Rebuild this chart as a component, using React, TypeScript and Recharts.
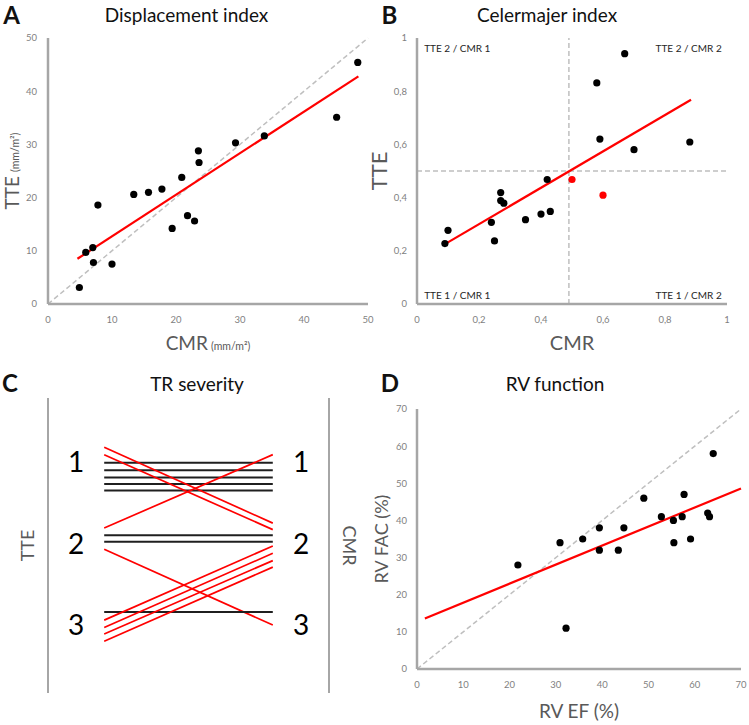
import React from 'react';
import {
    Line,
    LineChart,
    ReferenceDot,
    ReferenceLine,
    Scatter,
    ScatterChart,
    XAxis,
    YAxis,
} from 'recharts';

const FONT = 'Lato, "Open Sans", sans-serif';
const AXIS_GRAY = '#a6a6a6';
const TICK_GRAY = '#7f7f7f';
const LABEL_GRAY = '#595959';
const FIT_RED = '#ff0000';
const IDENTITY_GRAY = '#bfbfbf';

// A - displacement index (mm/m²)
const dispCmr = [4.9, 5.9, 7.0, 7.1, 7.8, 10.0, 13.4, 15.7, 17.8, 19.4, 20.9, 21.8, 22.9, 23.5, 23.6, 29.3, 33.8, 45.1, 48.4];
const dispTte = [3.1, 9.7, 10.6, 7.8, 18.6, 7.5, 20.6, 21.0, 21.6, 14.2, 23.8, 16.6, 15.6, 28.8, 26.6, 30.3, 31.6, 35.1, 45.4];
const dispFitX = [4.6, 48.5];
const dispFitY = [8.5, 42.8];
const dispTicks = [0, 10, 20, 30, 40, 50];

// B - Celermajer index
const celCmr = [0.09, 0.10, 0.24, 0.25, 0.27, 0.27, 0.28, 0.35, 0.40, 0.42, 0.43, 0.58, 0.59, 0.67, 0.70, 0.88];
const celTte = [0.227, 0.277, 0.307, 0.237, 0.419, 0.389, 0.379, 0.317, 0.338, 0.468, 0.348, 0.831, 0.620, 0.941, 0.580, 0.609];
const celMismatchCmr = [0.50, 0.60];
const celMismatchTte = [0.468, 0.409];
const celFitX = [0.09, 0.884];
const celFitY = [0.225, 0.768];
const celCutX = 0.49;
const celCutY = 0.5;
const celTicks = [0, 0.2, 0.4, 0.6, 0.8, 1];
const celQuadrants = ['TTE 2 / CMR 1', 'TTE 2 / CMR 2', 'TTE 1 / CMR 1', 'TTE 1 / CMR 2'];

// C - TR severity grade per patient (TTE left, CMR right), stacked within grade
const trTte = [1.01, 1.10, 1.19, 1.27, 1.35, 0.82, 0.91, 1.81, 1.90, 1.98, 2.07, 2.84, 2.94, 3.03, 3.11, 3.20];
const trCmr = [1.01, 1.10, 1.19, 1.27, 1.35, 1.75, 1.83, 0.91, 1.90, 1.98, 3.00, 2.84, 2.03, 2.12, 2.21, 2.29];
const trGrades = [1, 2, 3];

// D - RV function (%)
const rvEf = [21.8, 30.9, 32.2, 35.8, 39.4, 39.4, 43.5, 44.7, 49.0, 52.8, 55.4, 55.5, 57.3, 57.7, 59.1, 62.8, 63.2, 64.0];
const rvFac = [28, 34, 11, 35, 38, 32, 32, 38, 46, 41, 40, 34, 41, 47, 35, 42, 41, 58];
const rvFitX = [1.7, 70];
const rvFitY = [13.6, 48.6];
const rvTicks = [0, 10, 20, 30, 40, 50, 60, 70];

const TR_DOMAIN = [0.215, 3.834];

const toPoints = (xs: number[], ys: number[]) => xs.map((x, i) => ({ x, y: ys[i] }));

const dot = (color: string) => (p: any) => <circle cx={p.cx} cy={p.cy} r={3.6} fill={color} />;

const tickStyle = { fill: TICK_GRAY, fontSize: 9.5, fontFamily: FONT };

const yLabel = (dx: number, main: string, size: number, unit?: string, rot = -90) => ({ viewBox }: any) => {
    const cx = viewBox.x + dx;
    const cy = viewBox.y + viewBox.height / 2;
    return (
        <text transform={`translate(${cx},${cy}) rotate(${rot})`} x={0} y={size * 0.35} textAnchor="middle"
              fill={LABEL_GRAY} fontFamily={FONT} fontSize={size}>
            {main}
            {unit && <tspan fontSize={10.5} dx={4}>{unit}</tspan>}
        </text>
    );
};

const xLabel = (dy: number, main: string, size: number, unit?: string) => ({ viewBox }: any) => {
    const cx = viewBox.x + viewBox.width / 2;
    return (
        <text x={cx} y={viewBox.y + dy + size * 0.35} textAnchor="middle" fill={LABEL_GRAY}
              fontFamily={FONT} fontSize={size}>
            {main}
            {unit && <tspan fontSize={10.5} dx={3}>{unit}</tspan>}
        </text>
    );
};

const cornerText = (text: string, anchor: 'start' | 'end') => ({ viewBox }: any) => (
    <text x={viewBox.x} y={viewBox.y} dy="0.35em" textAnchor={anchor} fill="#262626" fontFamily={FONT} fontSize={10}>
        {text}
    </text>
);

const gradeTick = (dx: number) => (p: any) => (
    <text x={p.x + dx} y={p.y} dy="0.36em" textAnchor="middle" fill="#000" fontFamily={FONT} fontSize={28}>
        {p.payload.value}
    </text>
);

const Txt = ({ x, y, size, bold, children }: any) => (
    <div style={{
        position: 'absolute', left: x, top: y, transform: 'translate(-50%, -50%)',
        fontSize: size, fontWeight: bold ? 700 : 400, lineHeight: 1, whiteSpace: 'nowrap', color: '#111',
    }}>
        {children}
    </div>
);

const axisLine = { stroke: AXIS_GRAY, strokeWidth: 2.5 };
const fmtComma = (v: number) => String(v).replace('.', ',');

export default function App() {
    return (
        <div style={{ position: 'absolute', left: 0, top: 0, width: 749, height: 725, background: '#fff', fontFamily: FONT }}>
            <Txt x={11.5} y={15} size={24} bold>A</Txt>
            <Txt x={186.5} y={14} size={19}>Displacement index</Txt>
            <Txt x={389.5} y={15} size={24} bold>B</Txt>
            <Txt x={547} y={14} size={19}>Celermajer index</Txt>
            <Txt x={10} y={383} size={24} bold>C</Txt>
            <Txt x={197} y={383} size={19}>TR severity</Txt>
            <Txt x={390} y={383} size={24} bold>D</Txt>
            <Txt x={555} y={383} size={19}>RV function</Txt>

            <div style={{ position: 'absolute', left: 0, top: 0 }}>
                <ScatterChart width={375} height={360} margin={{ top: 38, right: 7, bottom: 0, left: 0 }}>
                    <XAxis type="number" dataKey="x" domain={[0, 50]} ticks={dispTicks} interval={0} height={56}
                           axisLine={axisLine} tickLine={false} tickSize={0} tickMargin={12} tick={tickStyle}
                           label={{ content: xLabel(39, 'CMR', 19, '(mm/m²)') }} />
                    <YAxis type="number" dataKey="y" domain={[0, 50]} ticks={dispTicks} interval={0} width={48}
                           axisLine={axisLine} tickLine={false} tickSize={0} tickMargin={11} tick={tickStyle}
                           label={{ content: yLabel(12, 'TTE', 19, '(mm/m²)') }} />
                    <ReferenceLine segment={[{ x: 0, y: 0 }, { x: 50, y: 50 }]} stroke={IDENTITY_GRAY}
                                   strokeWidth={1.5} strokeDasharray="5 3" />
                    <ReferenceLine segment={[{ x: dispFitX[0], y: dispFitY[0] }, { x: dispFitX[1], y: dispFitY[1] }]}
                                   stroke={FIT_RED} strokeWidth={2.2} />
                    <Scatter data={toPoints(dispCmr, dispTte)} shape={dot('#000')} isAnimationActive={false} />
                </ScatterChart>
            </div>

            <div style={{ position: 'absolute', left: 360, top: 0 }}>
                <ScatterChart width={389} height={360} margin={{ top: 38, right: 22, bottom: 0, left: 0 }}>
                    <XAxis type="number" dataKey="x" domain={[0, 1]} ticks={celTicks} interval={0} height={56}
                           axisLine={axisLine} tickLine={false} tickSize={0} tickMargin={12} tick={tickStyle}
                           tickFormatter={fmtComma} label={{ content: xLabel(39, 'CMR', 20) }} />
                    <YAxis type="number" dataKey="y" domain={[0, 1]} ticks={celTicks} interval={0} width={57}
                           axisLine={axisLine} tickLine={false} tickSize={0} tickMargin={10} tick={tickStyle}
                           tickFormatter={fmtComma} label={{ content: yLabel(19, 'TTE', 22) }} />
                    <ReferenceLine x={celCutX} stroke={IDENTITY_GRAY} strokeWidth={1.5} strokeDasharray="5 3" />
                    <ReferenceLine y={celCutY} stroke={IDENTITY_GRAY} strokeWidth={1.5} strokeDasharray="5 3" />
                    <ReferenceDot x={0.023} y={0.962} r={0} stroke="none" fill="none" label={{ content: cornerText(celQuadrants[0], 'start') }} />
                    <ReferenceDot x={0.983} y={0.962} r={0} stroke="none" fill="none" label={{ content: cornerText(celQuadrants[1], 'end') }} />
                    <ReferenceDot x={0.023} y={0.033} r={0} stroke="none" fill="none" label={{ content: cornerText(celQuadrants[2], 'start') }} />
                    <ReferenceDot x={0.983} y={0.033} r={0} stroke="none" fill="none" label={{ content: cornerText(celQuadrants[3], 'end') }} />
                    <ReferenceLine segment={[{ x: celFitX[0], y: celFitY[0] }, { x: celFitX[1], y: celFitY[1] }]}
                                   stroke={FIT_RED} strokeWidth={2.2} />
                    <Scatter data={toPoints(celCmr, celTte)} shape={dot('#000')} isAnimationActive={false} />
                    <Scatter data={toPoints(celMismatchCmr, celMismatchTte)} shape={dot(FIT_RED)} isAnimationActive={false} />
                </ScatterChart>
            </div>

            <div style={{ position: 'absolute', left: 0, top: 360 }}>
                <LineChart width={375} height={365} margin={{ top: 38, right: 0, bottom: 32, left: 0 }}>
                    <XAxis type="number" dataKey="x" domain={[0, 1]} hide />
                    <YAxis yAxisId="l" type="number" domain={TR_DOMAIN} reversed ticks={trGrades} interval={0}
                           width={48} axisLine={{ stroke: AXIS_GRAY, strokeWidth: 2 }} tickLine={false} tickSize={0}
                           tickMargin={0} tick={gradeTick(28)} label={{ content: yLabel(28, 'TTE', 18) }} />
                    <YAxis yAxisId="r" orientation="right" type="number" domain={TR_DOMAIN} reversed
                           ticks={trGrades} interval={0} width={46} axisLine={{ stroke: AXIS_GRAY, strokeWidth: 2 }}
                           tickLine={false} tickSize={0} tickMargin={0} tick={gradeTick(-28)}
                           label={{ content: yLabel(20, 'CMR', 18, undefined, 90) }} />
                    {trTte.map((t, i) => {
                        const changed = Math.round(t) !== Math.round(trCmr[i]);
                        // both axes share the same domain; bind half the lines to each so both render ticks
                        return (
                            <Line key={i} yAxisId={i % 2 ? 'r' : 'l'} data={[{ x: 0.2, y: t }, { x: 0.8, y: trCmr[i] }]}
                                  dataKey="y" stroke={changed ? FIT_RED : '#1f1f1f'} strokeWidth={changed ? 1.7 : 2}
                                  dot={false} activeDot={false} isAnimationActive={false} />
                        );
                    })}
                </LineChart>
            </div>

            <div style={{ position: 'absolute', left: 360, top: 360 }}>
                <ScatterChart width={389} height={365} margin={{ top: 49, right: 8, bottom: 0, left: 0 }}>
                    <XAxis type="number" dataKey="x" domain={[0, 70]} ticks={rvTicks} interval={0} height={56}
                           axisLine={axisLine} tickLine={false} tickSize={0} tickMargin={12} tick={tickStyle}
                           label={{ content: xLabel(42, 'RV EF (%)', 19) }} />
                    <YAxis type="number" dataKey="y" domain={[0, 70]} ticks={rvTicks} interval={0} width={57}
                           axisLine={axisLine} tickLine={false} tickSize={0} tickMargin={10} tick={tickStyle}
                           label={{ content: yLabel(22, 'RV FAC (%)', 18) }} />
                    <ReferenceLine segment={[{ x: 0, y: 0 }, { x: 70, y: 70 }]} stroke={IDENTITY_GRAY}
                                   strokeWidth={1.5} strokeDasharray="5 3" />
                    <ReferenceLine segment={[{ x: rvFitX[0], y: rvFitY[0] }, { x: rvFitX[1], y: rvFitY[1] }]}
                                   stroke={FIT_RED} strokeWidth={2.2} />
                    <Scatter data={toPoints(rvEf, rvFac)} shape={dot('#000')} isAnimationActive={false} />
                </ScatterChart>
            </div>
        </div>
    );
}
